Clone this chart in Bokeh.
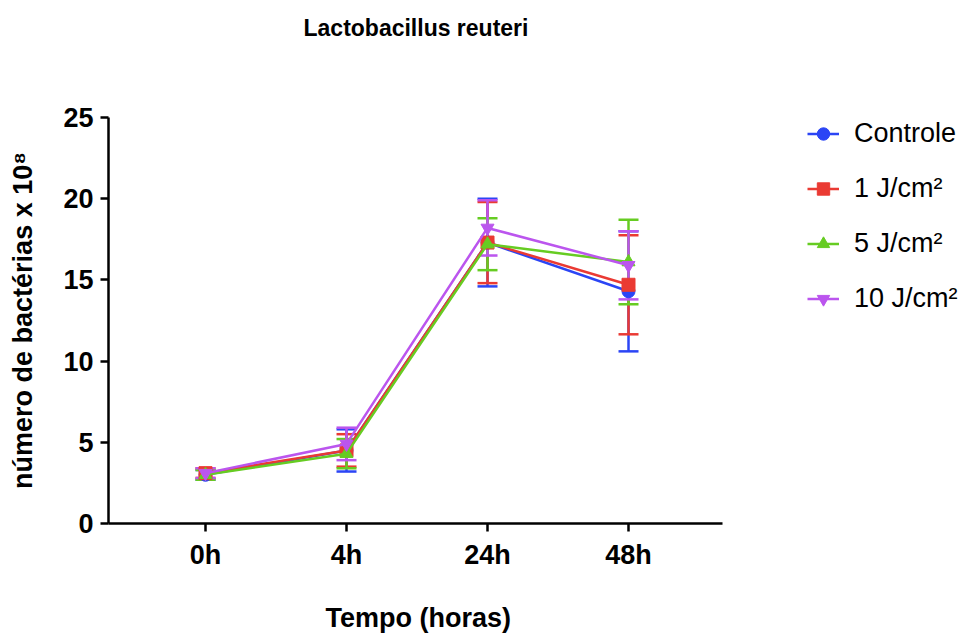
from bokeh.plotting import figure
from bokeh.models import (ColumnDataSource, Whisker, TeeHead, FixedTicker, Legend, LegendItem,
                          Range1d, Title)
from bokeh.embed import file_html
from bokeh.resources import INLINE

categories = ["0h", "4h", "24h", "48h"]
x_pos = [1, 2, 3, 4]

series_names = ["Controle", "1 J/cm²", "5 J/cm²", "10 J/cm²"]
controle_mean = [3.0, 4.5, 17.3, 14.3]
controle_sd = [0.3, 1.3, 2.7, 3.7]
j1_mean = [3.1, 4.5, 17.3, 14.7]
j1_sd = [0.3, 1.0, 2.5, 3.05]
j5_mean = [3.0, 4.3, 17.2, 16.1]
j5_sd = [0.3, 0.9, 1.6, 2.6]
j10_mean = [3.1, 4.9, 18.2, 15.9]
j10_sd = [0.3, 1.0, 1.7, 2.1]

colors = ["#2b45f5", "#ea3a33", "#66cc22", "#bb55ee"]
markers = ["circle", "square", "triangle", "inverted_triangle"]
means = [controle_mean, j1_mean, j5_mean, j10_mean]
sds = [controle_sd, j1_sd, j5_sd, j10_sd]

FONT = "Liberation Sans"

p = figure(width=965, height=635, output_backend="svg", toolbar_location=None, title=None,
           x_range=Range1d(0.312, 6.39), y_range=Range1d(0, 25),
           min_border_left=108, min_border_right=0, min_border_top=117, min_border_bottom=108)
p.outline_line_color = None
p.xgrid.visible = False
p.ygrid.visible = False
p.background_fill_color = "white"
p.border_fill_color = "white"

# spacer above the frame, then the real title
p.add_layout(Title(text=" ", text_font_size="10px", standoff=59), "above")
p.add_layout(Title(text="Lactobacillus reuteri", text_font=FONT, text_font_style="bold",
                   text_font_size="23px", text_color="black", align="left", offset=195,
                   vertical_align="bottom", standoff=10), "above")

items = []
for name, m, s, c, mk in zip(series_names, means, sds, colors, markers):
    src = ColumnDataSource(dict(x=x_pos, y=m,
                                upper=[a + b for a, b in zip(m, s)],
                                lower=[a - b for a, b in zip(m, s)]))
    w = Whisker(source=src, base="x", upper="upper", lower="lower",
                line_color=c, line_width=2.5,
                upper_head=TeeHead(size=20, line_color=c, line_width=2.5),
                lower_head=TeeHead(size=20, line_color=c, line_width=2.5))
    p.add_layout(w)
    ln = p.line("x", "y", source=src, line_color=c, line_width=2.5)
    sc = p.scatter("x", "y", source=src, marker=mk, size=13, fill_color=c, line_color=c)
    items.append(LegendItem(label=name, renderers=[ln, sc]))

legend = Legend(items=items, location=(699, 209), border_line_color=None,
                background_fill_alpha=0, label_text_font=FONT, label_text_font_size="27px",
                label_text_color="black",
                glyph_height=31, glyph_width=32, spacing=24, padding=0, margin=0,
                label_standoff=15)
p.add_layout(legend, "center")

for ax in (p.xaxis[0], p.yaxis[0]):
    ax.axis_line_width = 2.5
    ax.axis_line_color = "black"
    ax.major_tick_line_width = 2.5
    ax.major_tick_out = 8
    ax.major_tick_in = 0
    ax.minor_tick_line_color = None
    ax.major_label_text_font = FONT
    ax.major_label_text_font_style = "bold"
    ax.major_label_text_font_size = "27px"
    ax.major_label_text_color = "black"
    ax.axis_label_text_font = FONT
    ax.axis_label_text_font_style = "bold"
    ax.axis_label_text_font_size = "27px"
    ax.axis_label_text_color = "black"

p.xaxis.ticker = FixedTicker(ticks=x_pos)
p.xaxis.bounds = (0.312, 4.67)
p.xaxis.major_label_overrides = {k: v for k, v in zip(x_pos, categories)}
p.xaxis.major_label_standoff = 8

# x-axis label as a title below the axis, centred under the axis itself
p.add_layout(Title(text=" ", text_font_size="10px", standoff=16), "below")
p.add_layout(Title(text="Tempo (horas)", text_font=FONT, text_font_style="bold",
                   text_font_size="27px", text_color="black", align="left", offset=217,
                   vertical_align="top", standoff=2), "below")

p.yaxis.ticker = FixedTicker(ticks=[0, 5, 10, 15, 20, 25])
p.yaxis.axis_label = "número de bactérias x 10⁸"
p.yaxis.axis_label_standoff = 22
p.yaxis.major_label_standoff = 7

open("out.html", "w").write(file_html(p, INLINE))
